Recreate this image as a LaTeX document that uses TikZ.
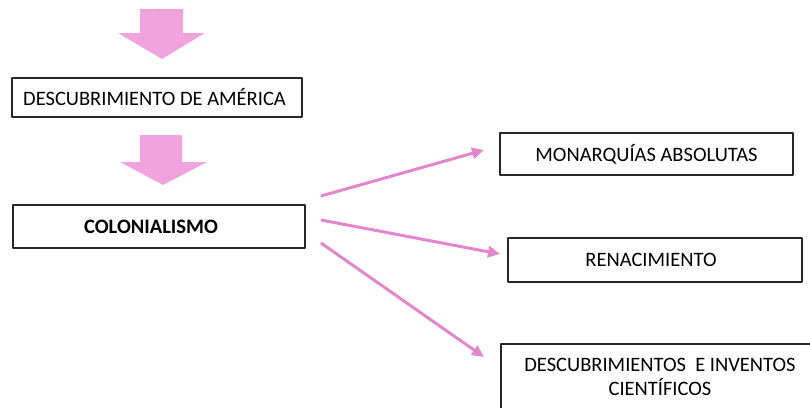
\documentclass[tikz,border=0pt]{standalone}
\usepackage{fontspec}
\setmainfont{Carlito}
\usetikzlibrary{arrows.meta}
\definecolor{rosa}{RGB}{241,163,221}
\definecolor{rosaosc}{RGB}{226,134,206}
\begin{document}
\begin{tikzpicture}[x=1pt,y=-1pt, font=\fontsize{20.5}{24}\selectfont, line join=round]
	\tikzset{caja/.style={draw=black!85, line width=1.3pt, rectangle, align=center, inner sep=0pt},
		flechon/.style={fill=rosa, draw=none},
		flecha/.style={draw=rosaosc, line width=3pt, -{Triangle[length=12pt,width=11pt]}}}
	\useasboundingbox (0,0) rectangle (810,407);
	\clip (0,0) rectangle (810,407);
	% flechas grandes
	\fill[flechon] (140,9)--(183,9)--(183,33)--(205,33)--(162,59)--(118,33)--(140,33)--cycle;
	\fill[flechon] (140,135)--(182,135)--(182,162)--(207,162)--(163,185)--(120,162)--(140,162)--cycle;
	% cajas
	\node[caja, minimum width=290, minimum height=39] (america) at (157,97.5) {\hspace*{-5pt}DESCUBRIMIENTO DE AMÉRICA};
	\node[caja, minimum width=292, minimum height=43] (colonia) at (159,226.5) {\hspace*{-16pt}\bfseries COLONIALISMO};
	\node[caja, minimum width=293, minimum height=42] (monarq) at (646.5,154) {\raisebox{2pt}{MONARQUÍAS ABSOLUTAS}};
	\node[caja, minimum width=294, minimum height=44] (renac) at (655,260) {\hspace*{-8pt}RENACIMIENTO};
	\node[caja, minimum width=318, minimum height=66] (invent) at (660,377) {DESCUBRIMIENTOS\ \ E INVENTOS\\CIENTÍFICOS};
	% flechas finas
	\coordinate (s1) at (321,196); \coordinate (t1) at (484,150);
	\coordinate (s2) at (321,220); \coordinate (t2) at (500,254);
	\coordinate (s3) at (321,243); \coordinate (t3) at (484,357);
	\draw[flecha] (s1)--(t1);
	\draw[flecha] (s2)--(t2);
	\draw[flecha] (s3)--(t3);
\end{tikzpicture}
\end{document}
